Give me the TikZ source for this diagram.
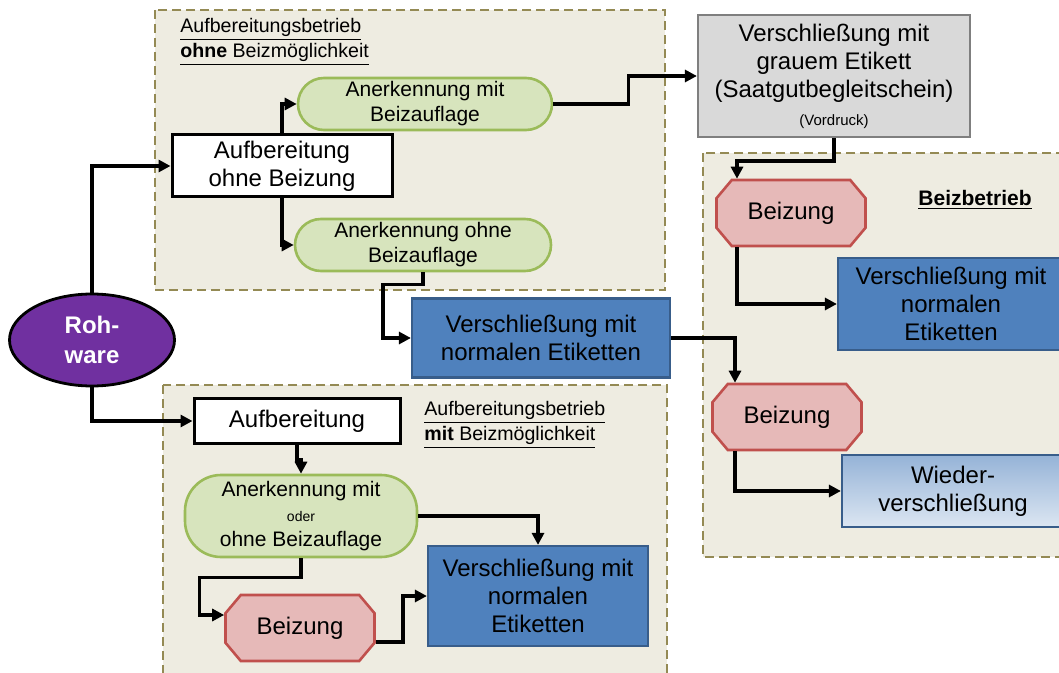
\documentclass[tikz,border=0pt]{standalone}
\usepackage{fontspec}
\setmainfont{Liberation Sans}
\usetikzlibrary{positioning,arrows.meta,shapes.misc,shapes.geometric,calc}
\definecolor{zonefill}{HTML}{EEECE1}
\definecolor{zoneline}{HTML}{948A54}
\definecolor{greenfill}{HTML}{D7E4BD}
\definecolor{greenline}{HTML}{9BBB59}
\definecolor{redfill}{HTML}{E6B9B8}
\definecolor{redline}{HTML}{C0504D}
\definecolor{bluefill}{HTML}{4F81BD}
\definecolor{blueline}{HTML}{385D8A}
\definecolor{greyfill}{HTML}{D9D9D9}
\definecolor{greyline}{HTML}{7F7F7F}
\definecolor{purplefill}{HTML}{7030A0}
\definecolor{lightblueA}{HTML}{95B3D7}
\definecolor{lightblueB}{HTML}{DCE6F2}

\begin{document}
\begin{tikzpicture}[x=0.5pt,y=-0.5pt,
        zone/.style={draw=zoneline, fill=zonefill, line width=1.2pt, dash pattern=on 4.5pt off 2.5pt},
        process/.style={rectangle, draw, line width=1.5pt, fill=white, align=center, font=\fontsize{12}{14}\selectfont, inner sep=0pt},
        approval/.style={rectangle, rounded corners=13pt, draw=greenline, line width=1.3pt, fill=greenfill, align=center, font=\fontsize{10.5}{12.5}\selectfont, inner sep=0pt},
        treat/.style={chamfered rectangle, chamfered rectangle xsep=10pt, chamfered rectangle angle=40, draw=redline, line width=1.3pt, fill=redfill, minimum width=74.5pt, minimum height=33pt, font=\fontsize{12}{14}\selectfont, inner sep=0pt},
        sealing/.style={rectangle, draw=blueline, line width=1.1pt, fill=bluefill, align=center, font=\fontsize{12}{14}\selectfont, inner sep=0pt},
        raw/.style={ellipse, draw, line width=1.4pt, fill=purplefill, text=white, align=center, font=\fontsize{12}{15}\selectfont\bfseries, inner sep=0pt},
        title/.style={align=left, font=\fontsize{9.8}{12.5}\selectfont, inner sep=0pt},
        arrow/.style={line width=1.7pt, -{Triangle[length=6pt,width=6pt]}}
    ]
        \useasboundingbox (0,0) rectangle (1059,673);
        \clip (0,0) rectangle (1059,673);

        % Zones
        \draw[zone] (155,10) rectangle (665,290);
        \draw[zone] (703,153) rectangle (1075,557);
        \draw[zone] (163,385) rectangle (667,690);

        \node[title, anchor=north west] (titleA) at (180,18) {\underline{Aufbereitungsbetrieb}\\\underline{\textbf{ohne} Beizmöglichkeit}};
        \node[title, font=\fontsize{10.5}{12.5}\selectfont\bfseries] (titleC) at (975,200) {\underline{Beizbetrieb}};
        \node[title, anchor=north west] (titleB) at (424,401) {\underline{Aufbereitungsbetrieb}\\\underline{\textbf{mit} Beizmöglichkeit}};

        % Raw material
        \node[raw, minimum width=82.5pt, minimum height=46pt] (roh) at (92,340) {Roh-\\ware};

        % Upper plant
        \node[process, minimum width=110pt, minimum height=31pt] (aufbA) at (282,166) {Aufbereitung\\ohne Beizung};
        \node[approval, minimum width=127pt, minimum height=26pt] (anerkA) at (425,104) {Anerkennung mit\\Beizauflage};
        \node[approval, minimum width=128pt, minimum height=26pt] (anerkB) at (423,245) {Anerkennung ohne\\Beizauflage};
        \node[process, draw=greyline, fill=greyfill, line width=1.1pt, minimum width=136pt, minimum height=61pt] (grey) at (834,76) {Verschließung mit\\grauem Etikett\\(Saatgutbegleitschein)\\{\fontsize{7.5}{9}\selectfont(Vordruck)}};
        \node[sealing, minimum width=129pt, minimum height=39.5pt] (verschlA) at (541,338) {Verschließung mit\\normalen Etiketten};

        % Treatment plant
        \node[treat] (beizA) at (791,213) {Beizung};
        \node[sealing, minimum width=113pt, minimum height=46pt] (verschlB) at (951,304) {Verschließung mit\\normalen\\Etiketten};
        \node[treat] (beizB) at (787,417) {Beizung};
        \node[sealing, top color=lightblueA, bottom color=lightblueB, minimum width=111pt, minimum height=36pt] (wieder) at (953,491) {Wieder-\\verschließung};

        % Lower plant
        \node[process, minimum width=103pt, minimum height=22.5pt] (aufbB) at (297,421) {Aufbereitung};
        \node[approval, rounded corners=18pt, minimum width=116pt, minimum height=41pt] (anerkC) at (301,516) {Anerkennung mit\\{\fontsize{7}{9}\selectfont oder}\\ohne Beizauflage};
        \node[treat] (beizC) at (300,628) {Beizung};
        \node[sealing, minimum width=110pt, minimum height=50pt] (verschlC) at (538,596) {Verschließung mit\\normalen\\Etiketten};

        % Arrows
        \draw[arrow] (roh.north) |- (aufbA.west);
        \draw[arrow] (roh.south) |- (aufbB.west);
        \draw[arrow] (aufbA.north) |- (anerkA.west);
        \draw[arrow] (aufbA.south) |- (anerkB.west);
        \draw[arrow] (anerkA.east) -- ++(75,0) |- (grey.west);
        \draw[arrow] (anerkB.south) -- ++(0,12) -| ($(verschlA.west)+(-28,0)$) -- (verschlA.west);
        \draw[arrow] (grey.south) -- ++(0,23) -| ($(beizA.north)+(-54,0)$);
        \draw[arrow] (verschlA.east) -| ($(beizB.north)+(-52,0)$);
        \draw[arrow] ($(beizA.south)+(-54,0)$) |- (verschlB.west);
        \draw[arrow] ($(beizB.south)+(-52,0)$) |- (wieder.west);
        \draw[arrow] (aufbB.south) -- ++(0,15) -| (anerkC.north);
        \draw[arrow] (anerkC.east) -| (verschlC.north);
        \draw[arrow] (anerkC.south) -- ++(0,19) -| ($(beizC.west)+(-25,-13)$) -- ($(beizC.west)+(0,-13)$);
        \draw[arrow] ($(beizC.east)+(0,14)$) -- ++(27,0) |- (verschlC.west);
    \end{tikzpicture}
\end{document}
